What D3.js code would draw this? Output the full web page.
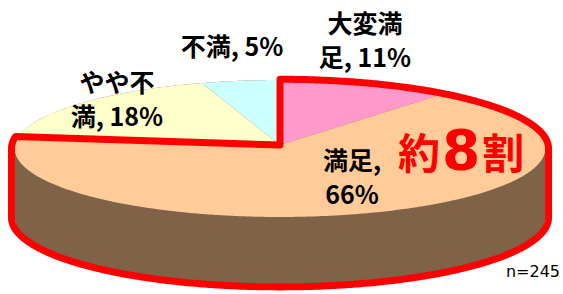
<!DOCTYPE html>
<html>
<head>
<meta charset="utf-8">
<script src="https://cdn.jsdelivr.net/npm/d3@7"></script>
<style>
  body { margin: 0; background: #fff; }
  text { font-family: "Noto Sans CJK JP", sans-serif; }
</style>
</head>
<body>
<svg id="chart" width="563" height="294"></svg>
<script>
// data
const categories = ['大変満足', '満足', 'やや不満', '不満'];
const values = [11, 66, 18, 5];
const labelLines = [['大変満', '足, 11%'], ['満足,', '66%'], ['やや不', '満, 18%'], ['不満, 5%']];
const highlighted = ['大変満足', '満足'];
const calloutParts = ['約', '8', '割'];
const sampleSize = 245;

// layout
const cx = 280, cy = 145, rx = 265, ry = 68.3, tilt = -0.051, depth = 69;
const labelPos = [[365, 33], [352, 170], [117, 92], [232, 56]];
const lineGap = 34;

const color = d3.scaleOrdinal()
  .domain(categories)
  .range(['#ff99cc', '#ffcc99', '#ffffcc', '#ccffff']);
const sideColor = '#7f6349';

const svg = d3.select('#chart');

// circle -> tilted ellipse with a little perspective
function proj(a, r = 1, dy = 0) {
  let u = Math.sin(a) * r, v = -Math.cos(a) * r;
  let w = 1 + tilt * v;
  return [cx + rx * u / w, cy + ry * v / w + dy];
}

function rim(a0, a1, r = 1, dy = 0) {
  let n = Math.max(2, Math.ceil(Math.abs(a1 - a0) / (Math.PI / 360)));
  return d3.range(n + 1).map(i => proj(a0 + (a1 - a0) * i / n, r, dy));
}

const line = d3.line();
const arcs = d3.pie().sort(null).value(d => d)(values);

// side of the cake
let hull = d3.polygonHull(rim(0, 2 * Math.PI).concat(rim(0, 2 * Math.PI, 1, depth)));
svg.append('path')
  .attr('d', line(hull) + 'Z')
  .attr('fill', sideColor);

// top slices
svg.append('g')
  .attr('class', 'slices')
  .selectAll('path')
  .data(arcs)
  .join('path')
    .attr('d', d => line([[cx, cy]].concat(rim(d.startAngle, d.endAngle))) + 'Z')
    .attr('fill', (d, i) => color(categories[i]));

// red outline around the highlighted share
let hl = arcs.filter((d, i) => highlighted.includes(categories[i]));
let a0 = d3.min(hl, d => d.startAngle), a1 = d3.max(hl, d => d.endAngle);
let angles = d3.range(0, 720).map(i => i * Math.PI / 360);
let aR = angles[d3.maxIndex(angles, a => proj(a)[0])];
let aL = angles[d3.minIndex(angles, a => proj(a)[0])];
let ro = 1.012;
let outline = [[cx, cy]]
  .concat(rim(a0, aR, ro))
  .concat(rim(aR, aL, ro, depth))
  .concat(rim(aL, a1, ro));
svg.append('path')
  .attr('d', line(outline) + 'Z')
  .attr('fill', 'none')
  .attr('stroke', '#ff0000')
  .attr('stroke-width', 7)
  .attr('stroke-linejoin', 'round');

// labels
svg.append('g')
  .attr('class', 'labels')
  .selectAll('text')
  .data(labelLines)
  .join('text')
    .attr('text-anchor', 'middle')
    .attr('font-size', 25)
    .attr('font-weight', 'bold')
    .attr('fill', '#000')
    .each(function(d, i) {
      d3.select(this).selectAll('tspan')
        .data(d)
        .join('tspan')
          .attr('x', labelPos[i][0])
          .attr('y', (s, j) => labelPos[i][1] + j * lineGap)
          .text(s => s);
    });

// callout
let callout = svg.append('text')
  .attr('x', 398)
  .attr('y', 169)
  .attr('fill', '#ff0000')
  .attr('font-weight', 'bold');
callout.selectAll('tspan')
  .data(calloutParts)
  .join('tspan')
    .attr('dx', (d, i) => i ? 2 : 0)
    .attr('font-size', d => isNaN(+d) ? 42 : 55)
    .style('font-family', d => isNaN(+d) ? '"Noto Sans CJK JP"' : '"DejaVu Sans"')
    .text(d => d);

svg.append('text')
  .attr('x', 560)
  .attr('y', 277)
  .attr('text-anchor', 'end')
  .attr('font-size', 16)
  .style('font-family', '"DejaVu Sans"')
  .text('n=' + sampleSize);
</script>
</body>
</html>
